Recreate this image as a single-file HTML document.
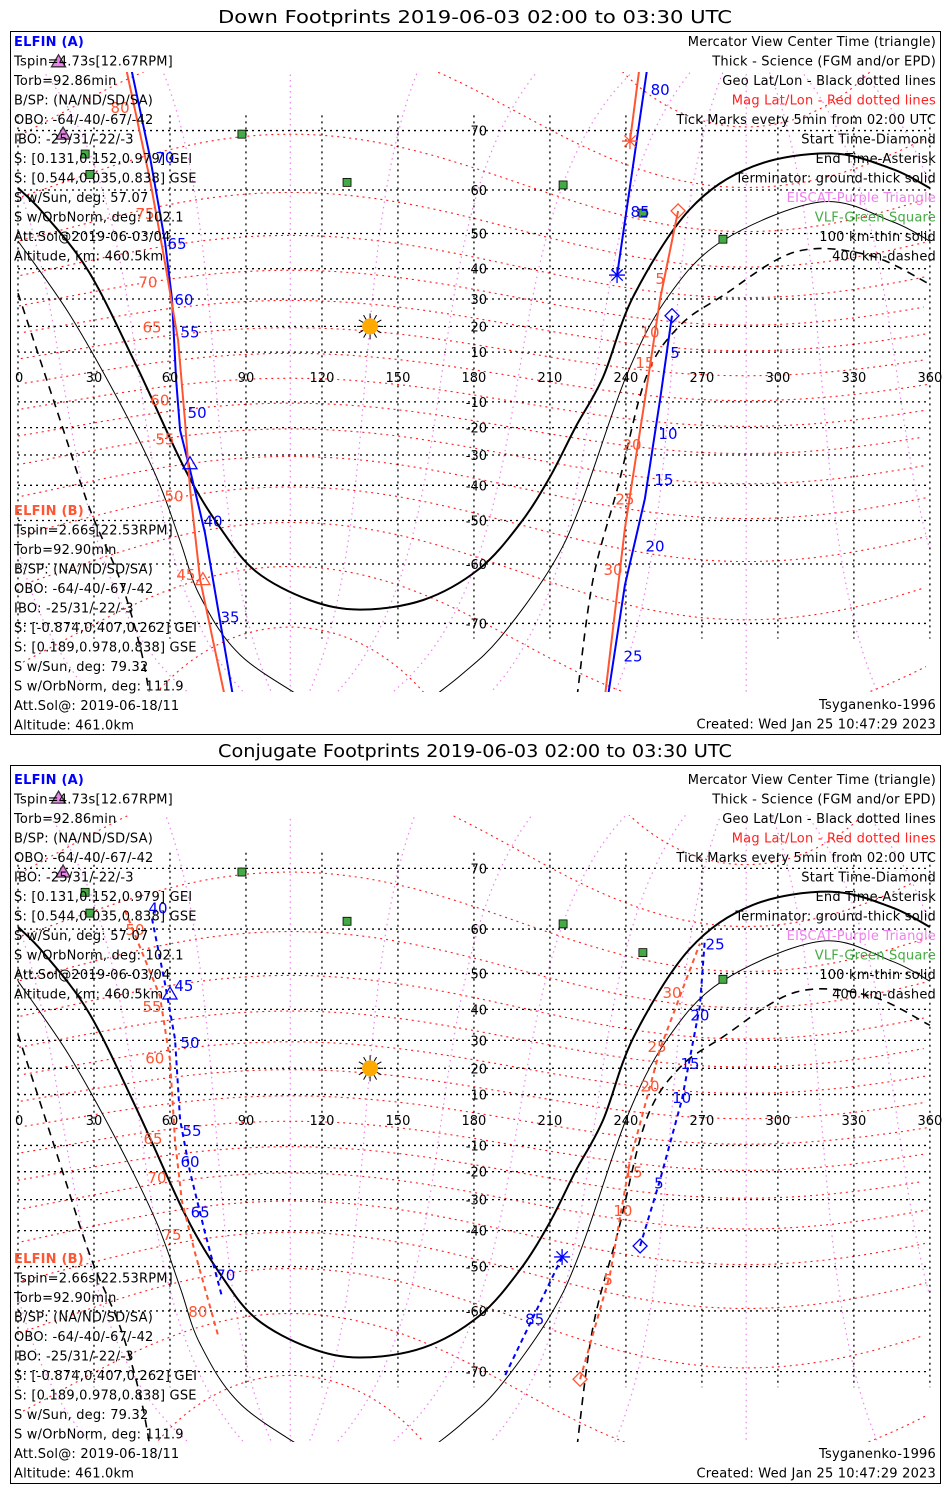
<!DOCTYPE html>
<html><head><meta charset="utf-8"><title>ELFIN footprints</title>
<style>
html,body{margin:0;padding:0;background:#fff;}
svg{display:block;}
text{font-family:"DejaVu Sans","Liberation Sans",sans-serif;}
</style></head>
<body>
<svg id="chart" width="950" height="1500" viewBox="0 0 950 1500" xmlns="http://www.w3.org/2000/svg">
<rect x="0" y="0" width="950" height="1500" fill="#fff"/>
</svg>
<script>
// ---------- data ----------
const lonTicks=[0,30,60,90,120,150,180,210,240,270,300,330,360];
const latTicks=[70,60,50,40,30,20,10,-10,-20,-30,-40,-50,-60,-70];
const termLon=[0,10,28,47,66,80,94,115,135,160,182,198,210,220,231,243,265,290,321,345,360];
const termLat=[60.4,55,39,4,-35,-52,-61.5,-66.5,-68,-66.5,-61,-51,-37.4,-20,0,31,55.7,64.4,66.6,64,60.4];
const thinLon=[0,20,40,55,64,72,88,119,140,158,175,190,210,222,240,256,278,317,345,360];
const thinLat=[48,25,-10,-38,-55,-66,-74,-79,-82,-79,-76,-72,-61,-46,0,30,48,57.5,53,48];
const dashLonL=[0,16.6,28.4,40.3,48.2,52.1];
const dashLatL=[32,-17,-47,-63,-73,-78];
const dashLonR=[220.7,227,237,248,261,278,307,336,360];
const dashLatR=[-78,-63,-40,0,20,31,45,44,35];
const vlfLon=[88.4,26.5,28.4,129.9,215.2,246.7,278.3];
const vlfLat=[69.5,66.5,63,61.5,61,55,48.5];
const eiscatLon=[16,17.8];
const eiscatLat=[77.6,69.5];
const sunLon=139, sunLat=20;

// Down footprints
const dA1Lon=[44.2,52.1,58,60.8,62.4,64,67.9,73.8,84.9];
const dA1Lat=[77.5,66,48,30,-1,-21,-35,-53,-78];
const dA1TickTxt=["70","65","60","55","50","40","35"];
const dA1TickLon=[58,62.8,65.5,67.9,70.7,77,83.7];
const dA1TickLat=[66,47.5,30,18,-14,-50,-69];
const dA1Center=[67.9,-33];
const dB1Lon=[42.2,52.1,58,63.2,65.9,67.9,71.9,81.7];
const dB1Lat=[77.5,62,42,14.6,-17,-41,-63,-78];
const dB1TickTxt=["80","75","70","65","60","55","50","45"];
const dB1TickLon=[40.3,50.1,51.3,52.9,56,58,61.6,66.3];
const dB1TickLat=[73,55,36,20,-9,-24,-43,-62];
const dB1Center=[73,-63];
const dA2aLon=[248.7,236.5], dA2aLat=[77.5,38];
const dA2aTickTxt=["80","85"], dA2aTickLon=[253.5,245.6], dA2aTickLat=[75,55.5];
const dA2bLon=[258.2,253.5,247.5,239.6,232.9], dA2bLat=[24,-9,-44,-64,-78];
const dA2bTickTxt=["5","10","15","20","25"];
const dA2bTickLon=[259.4,256.6,255,251.5,242.8], dA2bTickLat=[10,-22,-38,-56,-74];
const dB2aLon=[245.6,241.6], dB2aLat=[77.5,68.5];
const dB2bLon=[260.6,253.5,247.5,239.6,231.7], dB2bLat=[55.5,30,-9,-52,-78];
const dB2bTickTxt=["5","10","15","20","25","30"];
const dB2bTickLon=[253.5,249.5,247.5,242.4,239.6,234.9], dB2bTickLat=[37,18,6,-26,-44,-61];

// Conjugate footprints
const cA1Lon=[52.9,58,62,64,67.9,73.8,80.5], cA1Lat=[62,47.5,30.5,0,-20,-40.5,-57];
const cA1TickTxt=["40","45","50","55","60","65","70"];
const cA1TickLon=[55.3,65.5,67.9,68.7,67.9,71.9,82], cA1TickLat=[64,47,29.5,-4,-16,-34,-52];
const cA1Center=[60,44.5];
const cB1Lon=[42.2,56,60,62,64.7,69.9,79], cB1Lat=[63.5,44,23,-8,-30.5,-46.5,-64.5];
const cB1TickTxt=["50","55","60","65","70","75","80"];
const cB1TickLon=[46.2,52.9,54,53.3,54.9,60.8,71], cB1TickLat=[60,41,24,-7,-22,-41,-60];
const cA2aLon=[214.8,192.3], cA2aLat=[-47.5,-70.5];
const cA2aTickTxt=["85"], cA2aTickLon=[204], cA2aTickLat=[-61.5];
const cA2bLon=[245.6,253.5,262.1,269.2,271.2], cA2bLat=[-44.5,-23,8,41,58];
const cA2bTickTxt=["5","10","15","20","25"];
const cA2bTickLon=[253,262,265.3,269.2,275.2], cA2bTickLat=[-24,9,22,38.5,57];
const cB2bLon=[221.9,233.7,241.6,253.5,263.3,269.2], cB2bLat=[-71,-52,-16,27,47.5,57];
const cB2bTickTxt=["5","10","15","20","25","30"];
const cB2bTickLon=[233,238.8,242.8,249.5,252.3,258.2], cB2bTickLat=[-53,-33.5,-20,13.5,28,45];

const infoA=["Tspin=4.73s[12.67RPM]","Torb=92.86min","B/SP: (NA/ND/SD/SA)","OBO: -64/-40/-67/-42","IBO: -25/31/-22/-3","S: [0.131,0.152,0.979] GEI","S: [0.544,0.035,0.838] GSE","S w/Sun, deg: 57.07","S w/OrbNorm, deg: 102.1","Att.Sol@2019-06-03/04","Altitude, km: 460.5km"];
const infoB=["Tspin=2.66s[22.53RPM]","Torb=92.90min","B/SP: (NA/ND/SD/SA)","OBO: -64/-40/-67/-42","IBO: -25/31/-22/-3","S: [-0.874,0.407,0.262] GEI","S: [0.189,0.978,0.838] GSE","S w/Sun, deg: 79.32","S w/OrbNorm, deg: 111.9","Att.Sol@: 2019-06-18/11","Altitude: 461.0km"];
const legendTxt=["Mercator View Center Time (triangle)","Thick - Science (FGM and/or EPD)","Geo Lat/Lon - Black dotted lines","Mag Lat/Lon - Red dotted lines","Tick Marks every 5min from 02:00 UTC","Start Time-Diamond","End Time-Asterisk","Terminator: ground-thick solid","EISCAT-Purple Triangle","VLF-Green Square","100 km-thin solid","400 km-dashed"];
const legendCol=["#000","#000","#000","#ff2020","#000","#000","#000","#000","#ee82ee","#44aa44","#000","#000"];

// ---------- drawing ----------
const NS="http://www.w3.org/2000/svg";
const svg=document.getElementById('chart');
const BLUE="#0000ff", RED="#ff5533";
function mk(tag,attrs,parent){const e=document.createElementNS(NS,tag);for(const k in attrs)e.setAttribute(k,attrs[k]);(parent||svg).appendChild(e);return e;}
function px(lon){return 18+lon*2.533;}
function makePy(P){return function(lat){const r=Math.max(-85,Math.min(85,lat))*Math.PI/180;return P.y0-P.R*Math.log(Math.tan(Math.PI/4+r/2));};}
function pathFrom(lons,lats,py){let d="";for(let i=0;i<lons.length;i++){d+=(i?"L":"M")+px(lons[i]).toFixed(1)+","+py(lats[i]).toFixed(1);}return d;}
function smoothFrom(lons,lats,py){
  const p=lons.map((l,i)=>[px(l),py(lats[i])]);
  let d="M"+p[0][0].toFixed(1)+","+p[0][1].toFixed(1);
  for(let i=0;i<p.length-1;i++){
    const p0=p[Math.max(0,i-1)],p1=p[i],p2=p[i+1],p3=p[Math.min(p.length-1,i+2)];
    const c1=[p1[0]+(p2[0]-p0[0])/6,p1[1]+(p2[1]-p0[1])/6];
    const c2=[p2[0]-(p3[0]-p1[0])/6,p2[1]-(p3[1]-p1[1])/6];
    d+="C"+c1[0].toFixed(1)+","+c1[1].toFixed(1)+" "+c2[0].toFixed(1)+","+c2[1].toFixed(1)+" "+p2[0].toFixed(1)+","+p2[1].toFixed(1);
  }
  return d;
}
function magToGeo(m,L){
  const th=9.5*Math.PI/180, ph0=287.5*Math.PI/180;
  const mr=m*Math.PI/180, Lr=L*Math.PI/180;
  let x=Math.cos(mr)*Math.cos(Lr), y=Math.cos(mr)*Math.sin(Lr), z=Math.sin(mr);
  let x1=x*Math.cos(th)+z*Math.sin(th), z1=-x*Math.sin(th)+z*Math.cos(th), y1=y;
  let x2=x1*Math.cos(ph0)-y1*Math.sin(ph0), y2=x1*Math.sin(ph0)+y1*Math.cos(ph0);
  let lat=Math.asin(z1)*180/Math.PI, lon=Math.atan2(y2,x2)*180/Math.PI; if(lon<0)lon+=360;
  return [lon,lat];
}
function polyGeo(pts,py){let d="",prev=null;for(const p of pts){const x=px(p[0]),y=py(p[1]);if(prev===null||Math.abs(p[0]-prev)>180)d+="M";else d+="L";d+=x.toFixed(1)+","+y.toFixed(1);prev=p[0];}return d;}
function star(g,x,y,c,name){
  const s=mk('g',{},g);
  
  
  for(let a=0;a<180;a+=45){const r=a*Math.PI/180;mk('line',{x1:x-8*Math.cos(r),y1:y-8*Math.sin(r),x2:x+8*Math.cos(r),y2:y+8*Math.sin(r),stroke:c,'stroke-width':1.3},s);}
}
function diamond(g,x,y,c,name){const e=mk('polygon',{points:`${x},${y-7} ${x+7},${y} ${x},${y+7} ${x-7},${y}`,fill:'none',stroke:c,'stroke-width':1.3},g);}
function tri(g,x,y,c,fill,name){const e=mk('polygon',{points:`${x},${y-7} ${x+7},${y+5} ${x-7},${y+5}`,fill:fill,stroke:c,'stroke-width':1.3},g);}

function drawPanel(P){
  const py=makePy(P);
  const g=mk('g',{});
  
  
  const t=mk('text',{x:475,y:P.titleY,'font-size':18,'text-anchor':'middle',fill:'#000',textLength:514,lengthAdjust:'spacingAndGlyphs'},g);
  t.textContent=P.title;
  
  
  const box=mk('rect',{x:10.5,y:P.boxTop+0.5,width:930,height:P.boxBot-P.boxTop,fill:'none',stroke:'#000','stroke-width':1},g);
  
  
  const cid='clip-'+P.key;
  const cp=mk('clipPath',{id:cid},g);
  mk('rect',{x:11,y:P.clipTop,width:929,height:P.clipBot-P.clipTop},cp);
  const map=mk('g',{'clip-path':`url(#${cid})`},g);
  
  
  for(let L=0;L<360;L+=30){const pts=[];for(let m=-88;m<=88;m+=2)pts.push(magToGeo(m,L));
    const e=mk('path',{d:polyGeo(pts,py),fill:'none',stroke:'#ee82ee','stroke-width':1.2,'stroke-dasharray':'1.5,4'},map);
    
    }
  for(let m=-80;m<=80;m+=10){const pts=[];for(let L=0;L<=360;L+=3)pts.push(magToGeo(m,L));pts.sort((a,b)=>a[0]-b[0]);
    const e=mk('path',{d:polyGeo(pts,py),fill:'none',stroke:'#ff1a1a','stroke-width':1.1,'stroke-dasharray':'2,4'},map);
    
    }
  for(const la of latTicks){const e=mk('line',{x1:px(0),x2:px(360),y1:py(la),y2:py(la),stroke:'#000','stroke-width':1.3,'stroke-dasharray':'2,4'},map);
    
    }
  for(const lo of lonTicks){const e=mk('line',{x1:px(lo),x2:px(lo),y1:py(72),y2:py(-72),stroke:'#000','stroke-width':1.3,'stroke-dasharray':'2,4'},map);
    
    }
  let e=mk('path',{d:smoothFrom(termLon,termLat,py),fill:'none',stroke:'#000','stroke-width':2},map);
  
  
  e=mk('path',{d:smoothFrom(thinLon,thinLat,py),fill:'none',stroke:'#000','stroke-width':1},map);
  
  
  e=mk('path',{d:smoothFrom(dashLonL,dashLatL,py)+smoothFrom(dashLonR,dashLatR,py),fill:'none',stroke:'#000','stroke-width':1.6,'stroke-dasharray':'8,6'},map);
  
  
  for(const la of latTicks){const tx=mk('text',{x:487,y:py(la)+5,'font-size':13,'text-anchor':'end',fill:'#000'},g);tx.textContent=String(la);
    
    }
  for(const lo of lonTicks){const tx=mk('text',{x:lo===0?15:px(lo),y:P.y0+5,'font-size':13,'text-anchor':lo===0?'start':'middle',fill:'#000'},g);tx.textContent=String(lo);
    
    }
  for(let i=0;i<vlfLon.length;i++){const r=mk('rect',{x:px(vlfLon[i])-4,y:py(vlfLat[i])-4,width:8,height:8,fill:'#44aa44',stroke:'#000','stroke-width':0.8},g);
    
    }
  for(let i=0;i<eiscatLon.length;i++){tri(g,px(eiscatLon[i]),py(eiscatLat[i]),'#333','#ee82ee','eiscat-marker');}
  const sg=mk('g',{},g);
  
  
  const sx=px(sunLon), sy=py(sunLat);
  for(let a=0;a<360;a+=30){const r=a*Math.PI/180;mk('line',{x1:sx+8*Math.cos(r),y1:sy+8*Math.sin(r),x2:sx+13*Math.cos(r),y2:sy+13*Math.sin(r),stroke:'#000','stroke-width':1},sg);}
  mk('circle',{cx:sx,cy:sy,r:8,fill:'#ffaa00'},sg);
  for(const T of P.tracks){
    const p=mk('path',{d:pathFrom(T.lon,T.lat,py),fill:'none',stroke:T.c,'stroke-width':2,'stroke-dasharray':T.dash||'none'},map);
    
    
    if(T.tt){for(let i=0;i<T.tt.length;i++){const tx=mk('text',{x:px(T.tlon[i]),y:py(T.tlat[i])+6,'font-size':15,fill:T.c,'text-anchor':'middle'},g);tx.textContent=T.tt[i];
      
      }}
    if(T.start)diamond(g,px(T.lon[0]),py(T.lat[0]),T.c,T.name+'-start-diamond');
    if(T.end)star(g,px(T.lon[T.lon.length-1]),py(T.lat[T.lat.length-1]),T.c,T.name+'-end-asterisk');
    if(T.center)tri(g,px(T.center[0]),py(T.center[1]),T.c,'none',T.name+'-center-triangle');
  }
  const ts={'font-size':13,'letter-spacing':0.2};
  const hA=mk('text',Object.assign({x:14,y:P.textTop+5,'font-weight':'bold',fill:BLUE},ts),g);hA.textContent="ELFIN (A)";
  
  
  infoA.forEach((s,i)=>{const tx=mk('text',Object.assign({x:14,y:P.textTop+5+(i+1)*19.5,fill:'#000'},ts),g);tx.textContent=s;
    
    });
  const hB=mk('text',Object.assign({x:14,y:P.textBot+5,'font-weight':'bold',fill:'#ff5533'},ts),g);hB.textContent="ELFIN (B)";
  
  
  infoB.forEach((s,i)=>{const tx=mk('text',Object.assign({x:14,y:P.textBot+5+(i+1)*19.5,fill:'#000'},ts),g);tx.textContent=s;
    
    });
  legendTxt.forEach((s,i)=>{const tx=mk('text',Object.assign({x:936,y:P.textTop+5+i*19.5,fill:legendCol[i],'text-anchor':'end'},ts),g);tx.textContent=s;
    
    });
  const f1=mk('text',Object.assign({x:936,y:P.foot+5,fill:'#000','text-anchor':'end'},ts),g);f1.textContent="Tsyganenko-1996";
  
  
  const f2=mk('text',Object.assign({x:936,y:P.foot+24.5,fill:'#000','text-anchor':'end'},ts),g);f2.textContent="Created: Wed Jan 25 10:47:29 2023";
  
  
}

drawPanel({key:'down',title:"Down Footprints 2019-06-03 02:00 to 03:30 UTC",titleY:23,boxTop:31,boxBot:734,textTop:41,textBot:510,foot:704,y0:377,R:142,clipTop:72,clipBot:692,
  tracks:[
    {name:'elfin-a-track-1',lon:dA1Lon,lat:dA1Lat,c:BLUE,tt:dA1TickTxt,tlon:dA1TickLon,tlat:dA1TickLat,center:dA1Center},
    {name:'elfin-b-track-1',lon:dB1Lon,lat:dB1Lat,c:RED,tt:dB1TickTxt,tlon:dB1TickLon,tlat:dB1TickLat,center:dB1Center},
    {name:'elfin-a-track-2a',lon:dA2aLon,lat:dA2aLat,c:BLUE,tt:dA2aTickTxt,tlon:dA2aTickLon,tlat:dA2aTickLat,end:true},
    {name:'elfin-a-track-2b',lon:dA2bLon,lat:dA2bLat,c:BLUE,tt:dA2bTickTxt,tlon:dA2bTickLon,tlat:dA2bTickLat,start:true},
    {name:'elfin-b-track-2a',lon:dB2aLon,lat:dB2aLat,c:RED,end:true},
    {name:'elfin-b-track-2b',lon:dB2bLon,lat:dB2bLat,c:RED,tt:dB2bTickTxt,tlon:dB2bTickLon,tlat:dB2bTickLat,start:true}
  ]});
drawPanel({key:'conjugate',title:"Conjugate Footprints 2019-06-03 02:00 to 03:30 UTC",titleY:757,boxTop:765,boxBot:1483,textTop:779,textBot:1258,foot:1453,y0:1120,R:145,clipTop:815,clipBot:1442,
  tracks:[
    {name:'elfin-a-conj-track-1',lon:cA1Lon,lat:cA1Lat,c:BLUE,dash:'5,4',tt:cA1TickTxt,tlon:cA1TickLon,tlat:cA1TickLat,center:cA1Center},
    {name:'elfin-b-conj-track-1',lon:cB1Lon,lat:cB1Lat,c:RED,dash:'5,4',tt:cB1TickTxt,tlon:cB1TickLon,tlat:cB1TickLat},
    {name:'elfin-a-conj-track-2a',lon:cA2aLon,lat:cA2aLat,c:BLUE,dash:'5,4',tt:cA2aTickTxt,tlon:cA2aTickLon,tlat:cA2aTickLat},
    {name:'elfin-a-conj-track-2b',lon:cA2bLon,lat:cA2bLat,c:BLUE,dash:'5,4',tt:cA2bTickTxt,tlon:cA2bTickLon,tlat:cA2bTickLat,start:true},
    {name:'elfin-b-conj-track-2b',lon:cB2bLon,lat:cB2bLat,c:RED,dash:'5,4',tt:cB2bTickTxt,tlon:cB2bTickLon,tlat:cB2bTickLat,start:true}
  ]});
(function(){const py=makePy({y0:1120,R:145});star(svg,px(cA2aLon[0]),py(cA2aLat[0]),BLUE,'elfin-a-conj-end-asterisk');})();
</script>
</body></html>
